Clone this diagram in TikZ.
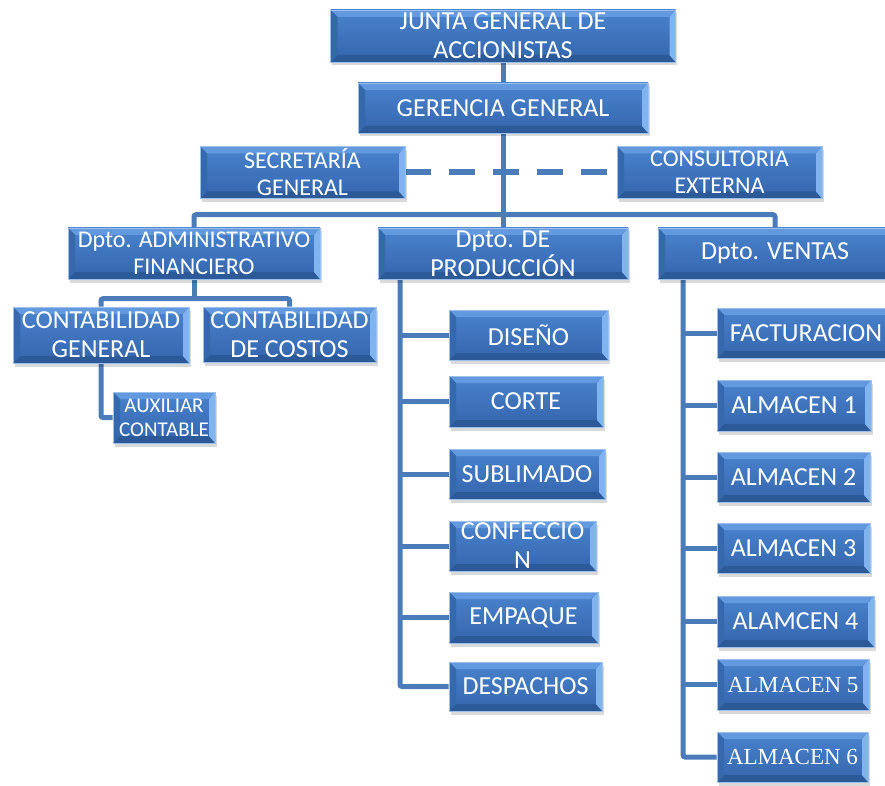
\documentclass[tikz,border=0pt]{standalone}
\usepackage{fontspec}
\setmainfont{Carlito}
\newfontfamily\almserif{Liberation Serif}
\usetikzlibrary{backgrounds}

\definecolor{boxtop}{HTML}{4A83CE}
\definecolor{boxbot}{HTML}{3465AC}
\definecolor{bevT}{HTML}{6399DE}
\definecolor{bevB}{HTML}{2C5A99}
\definecolor{bevL}{HTML}{3668AE}
\definecolor{bevR}{HTML}{80B4EE}
\definecolor{boxline}{HTML}{9CC0EC}
\definecolor{linkblue}{HTML}{4A7CB9}

\tikzset{
  orgbox/.style={rectangle, inner sep=0pt, draw=boxline, line width=0.6pt,
    top color=boxtop, bottom color=boxbot,
    preaction={fill=black, opacity=0.15, transform canvas={xshift=1.5pt, yshift=-3.5pt}},
    path picture={
      \fill[bevT] (path picture bounding box.north west) -- (path picture bounding box.north east)
        -- ([xshift=-7pt,yshift=-7pt]path picture bounding box.north east)
        -- ([xshift=7pt,yshift=-7pt]path picture bounding box.north west) -- cycle;
      \fill[bevB] (path picture bounding box.south west) -- (path picture bounding box.south east)
        -- ([xshift=-7pt,yshift=7pt]path picture bounding box.south east)
        -- ([xshift=7pt,yshift=7pt]path picture bounding box.south west) -- cycle;
      \fill[bevL] (path picture bounding box.north west) -- ([xshift=7pt,yshift=-7pt]path picture bounding box.north west)
        -- ([xshift=7pt,yshift=7pt]path picture bounding box.south west) -- (path picture bounding box.south west) -- cycle;
      \fill[bevR] (path picture bounding box.north east) -- ([xshift=-6pt,yshift=-7pt]path picture bounding box.north east)
        -- ([xshift=-6pt,yshift=7pt]path picture bounding box.south east) -- (path picture bounding box.south east) -- cycle;
    }},
  boxtext/.style={text=white, align=center, inner sep=0pt},
  big/.style={boxtext, font=\fontsize{26}{29}\selectfont},
  mid/.style={boxtext, font=\fontsize{24}{27}\selectfont},
  small/.style={boxtext, font=\fontsize{21}{24}\selectfont},
  serif/.style={boxtext, font=\almserif\fontsize{23}{27}\selectfont},
  conn/.style={draw=linkblue, line width=5pt, rounded corners=2pt},
  dashline/.style={draw=linkblue, line width=6pt, dash pattern=on 26pt off 18pt},
}

\begin{document}
\begin{tikzpicture}[x=1pt, y=-1pt]
\useasboundingbox (0,0) rectangle (885,786);
\begin{scope}[on background layer]
  \fill[white] (0,0) rectangle (885,786);
\end{scope}
\clip (0,0) rectangle (885,786);

% top levels
\node[orgbox, minimum width=345pt, minimum height=52pt, label={[big]center:JUNTA GENERAL DE\\ACCIONISTAS}] (junta) at (503,36) {};
\node[orgbox, minimum width=290pt, minimum height=50pt, label={[big]center:GERENCIA GENERAL}] (gerencia) at (503,108) {};
\node[orgbox, minimum width=205pt, minimum height=52pt, label={[mid]center:SECRETARÍA\\GENERAL}] (secre) at (302.5,172.5) {};
\node[orgbox, minimum width=205pt, minimum height=52pt, label={[mid]center:CONSULTORIA\\EXTERNA}] (consul) at (719.5,172.5) {};

% departments
\node[orgbox, minimum width=252pt, minimum height=51pt, label={[mid]center:Dpto. ADMINISTRATIVO\\FINANCIERO}] (admin) at (194,253.5) {};
\node[orgbox, minimum width=250pt, minimum height=51pt, label={[big]center:Dpto. DE\\PRODUCCIÓN}] (prod) at (503,253.5) {};
\node[orgbox, minimum width=234pt, minimum height=51pt, label={[big]center:Dpto. VENTAS}] (ventas) at (775,253.5) {};

% administration
\node[orgbox, minimum width=176pt, minimum height=56pt, label={[big]center:CONTABILIDAD\\GENERAL}] (cg) at (101,335) {};
\node[orgbox, minimum width=173pt, minimum height=55pt, label={[big]center:CONTABILIDAD\\DE COSTOS}] (cc) at (289.5,334.5) {};
\node[orgbox, minimum width=102pt, minimum height=51pt, label={[small]center:AUXILIAR\\CONTABLE}] (aux) at (164,417.5) {};

% production
\node[orgbox, minimum width=159pt, minimum height=50pt, label={[big]center:DISEÑO}] (diseno) at (528.5,335) {};
\node[orgbox, minimum width=154pt, minimum height=51pt, label={[big]center:CORTE}] (corte) at (526,401.5) {};
\node[orgbox, minimum width=156pt, minimum height=50pt, label={[big]center:SUBLIMADO}] (subl) at (527,474) {};
\node[orgbox, minimum width=147pt, minimum height=50pt, label={[big]center:CONFECCIO\\N}] (conf) at (522.5,546) {};
\node[orgbox, minimum width=149pt, minimum height=51pt, label={[big]center:EMPAQUE}] (emp) at (523.5,617.5) {};
\node[orgbox, minimum width=153pt, minimum height=49pt, label={[big]center:DESPACHOS}] (desp) at (525.5,686.5) {};

% sales
\node[orgbox, minimum width=178pt, minimum height=50pt, label={[big]center:FACTURACION}] (fact) at (806,333) {};
\node[orgbox, minimum width=154pt, minimum height=51pt, label={[big]center:ALMACEN 1}] (alm1) at (794,405.5) {};
\node[orgbox, minimum width=153pt, minimum height=50pt, label={[big]center:ALMACEN 2}] (alm2) at (793.5,477) {};
\node[orgbox, minimum width=153pt, minimum height=50pt, label={[big]center:ALMACEN 3}] (alm3) at (793.5,548) {};
\node[orgbox, minimum width=157pt, minimum height=51pt, label={[big]center:ALAMCEN 4}] (alm4) at (795.5,621.5) {};
\node[orgbox, minimum width=152pt, minimum height=51pt, label={[serif]center:ALMACEN 5}] (alm5) at (793,684.5) {};
\node[orgbox, minimum width=151pt, minimum height=50pt, label={[serif]center:ALMACEN 6}] (alm6) at (792.5,757) {};

\coordinate (pline) at (400,279);
\coordinate (vline) at (683,279);

\begin{scope}[on background layer]
  \draw[conn] (junta.south) -- (gerencia.north);
  \draw[conn] (gerencia.south) -- (prod.north);
  \draw[dashline] (secre.east) -- (consul.west);
  \draw[conn] (admin.north) -- ++(0,-13) -| (ventas.north);
  \draw[conn] (admin.south) -- ++(0,20);
  \draw[conn] (cg.north) -- ++(0,-8) -| (cc.north);
  \draw[conn] (cg.south) |- (aux.west);
  \draw[conn] (pline) |- (desp.west);
  \foreach \n in {diseno,corte,subl,conf,emp}
    \draw[conn] (\n.west) -- (\n.west -| pline);
  \draw[conn] (vline) |- (alm6.west);
  \foreach \n in {fact,alm1,alm2,alm3,alm4,alm5}
    \draw[conn] (\n.west) -- (\n.west -| vline);
\end{scope}
\end{tikzpicture}
\end{document}
